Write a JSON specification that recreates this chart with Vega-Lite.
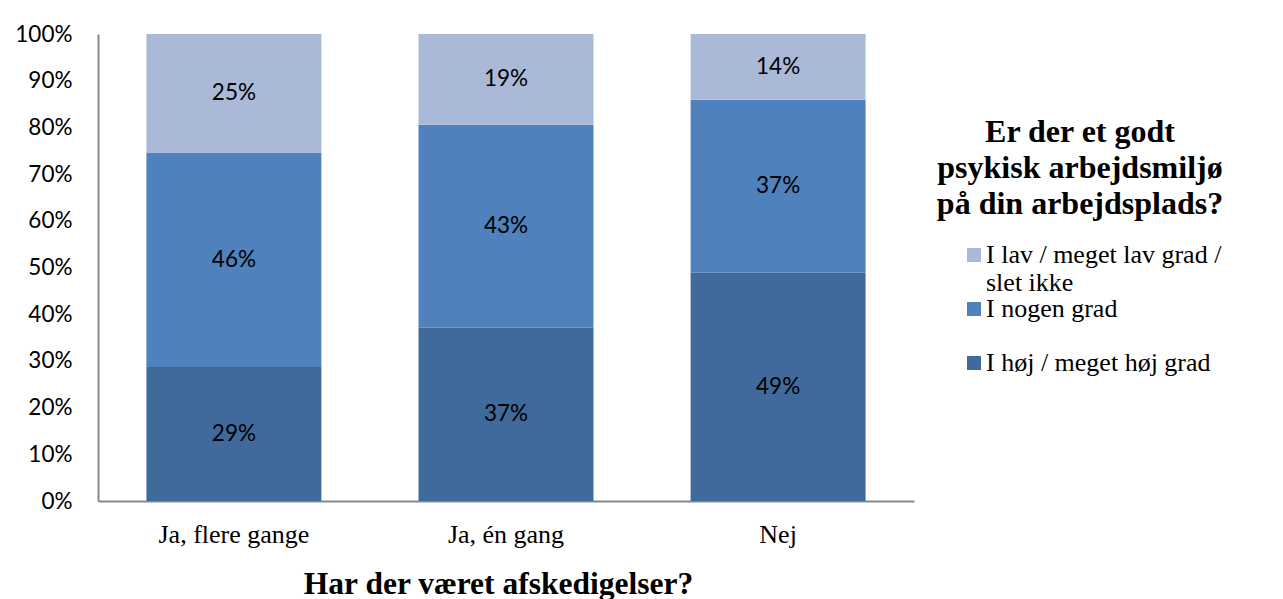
{
  "$schema": "https://vega.github.io/schema/vega-lite/v6.json",
  "width": 816,
  "height": 467,
  "autosize": {"type": "none"},
  "padding": {"left": 98, "top": 34, "right": 369, "bottom": 98},
  "background": "white",
  "config": {"view": {"stroke": null}},
  "data": {
    "values": [
      {"cat": "Ja, flere gange", "grp": "I høj / meget høj grad", "order": 1, "value": 0.287},
      {"cat": "Ja, flere gange", "grp": "I nogen grad", "order": 2, "value": 0.459},
      {"cat": "Ja, flere gange", "grp": "I lav / meget lav grad / slet ikke", "order": 3, "value": 0.254},
      {"cat": "Ja, én gang", "grp": "I høj / meget høj grad", "order": 1, "value": 0.370},
      {"cat": "Ja, én gang", "grp": "I nogen grad", "order": 2, "value": 0.434},
      {"cat": "Ja, én gang", "grp": "I lav / meget lav grad / slet ikke", "order": 3, "value": 0.194},
      {"cat": "Nej", "grp": "I høj / meget høj grad", "order": 1, "value": 0.489},
      {"cat": "Nej", "grp": "I nogen grad", "order": 2, "value": 0.370},
      {"cat": "Nej", "grp": "I lav / meget lav grad / slet ikke", "order": 3, "value": 0.141}
    ]
  },
  "transform": [
    {"stack": "value", "groupby": ["cat"], "sort": [{"field": "order", "order": "ascending"}], "as": ["v0", "v1"], "offset": "normalize"},
    {"calculate": "(datum.v0 + datum.v1) / 2", "as": "mid"}
  ],
  "encoding": {
    "x": {
      "field": "cat",
      "type": "nominal",
      "sort": ["Ja, flere gange", "Ja, én gang", "Nej"],
      "scale": {"paddingInner": 0.357, "paddingOuter": 0.178},
      "axis": {
        "title": "Har der været afskedigelser?",
        "labelAngle": 0,
        "labelFont": "Liberation Serif",
        "labelFontSize": 26,
        "labelColor": "black",
        "labelPadding": 20,
        "ticks": false,
        "tickSize": 0,
        "domainColor": "#878787",
        "domainWidth": 2,
        "titleFont": "Liberation Serif",
        "titleFontSize": 31.5,
        "titleFontWeight": "bold",
        "titleColor": "black",
        "titlePadding": 21,
        "titleX": 400
      }
    }
  },
  "layer": [
    {
      "mark": {"type": "bar"},
      "encoding": {
        "y": {
          "field": "v1",
          "type": "quantitative",
          "scale": {"domain": [0, 1]},
          "axis": {
            "title": null,
            "values": [0, 0.1, 0.2, 0.3, 0.4, 0.5, 0.6, 0.7, 0.8, 0.9, 1],
            "format": ".0%",
            "labelFont": "Lato",
            "labelFontSize": 22.5,
            "labelColor": "black",
            "labelPadding": 26,
            "ticks": false,
            "tickSize": 0,
            "grid": false,
            "domainColor": "#878787",
            "domainWidth": 2
          }
        },
        "y2": {"field": "v0"},
        "color": {
          "field": "grp",
          "type": "nominal",
          "scale": {
            "domain": ["I lav / meget lav grad / slet ikke", "I nogen grad", "I høj / meget høj grad"],
            "range": ["#AAB9D7", "#4F81BD", "#3F6A9B"]
          },
          "legend": {
            "orient": "none",
            "legendX": 839,
            "legendY": 83,
            "padding": 0,
            "title": ["Er der et godt", "psykisk arbejdsmiljø", "på din arbejdsplads?"],
            "titleFont": "Liberation Serif",
            "titleFontSize": 32,
            "titleFontWeight": "bold",
            "titleColor": "black",
            "titleLineHeight": 36,
            "titleAlign": "center",
            "titleAnchor": "middle",
            "titleLimit": 1000,
            "titlePadding": 21,
            "symbolType": "square",
            "symbolSize": 196,
            "symbolStrokeWidth": 0,
            "symbolOffset": 23,
            "labelOffset": -1,
            "labelFont": "Liberation Serif",
            "labelFontSize": 26,
            "labelColor": "black",
            "labelBaseline": "middle",
            "labelLimit": 500,
            "rowPadding": 0,
            "labelExpr": "datum.label == 'I lav / meget lav grad / slet ikke' ? ['I lav / meget lav grad /', 'slet ikke'] : [datum.label, '']"
          }
        }
      }
    },
    {
      "mark": {"type": "text", "font": "Lato", "fontSize": 22.5, "color": "black"},
      "encoding": {
        "y": {"field": "mid", "type": "quantitative"},
        "text": {"field": "value", "format": ".0%"}
      }
    }
  ]
}
